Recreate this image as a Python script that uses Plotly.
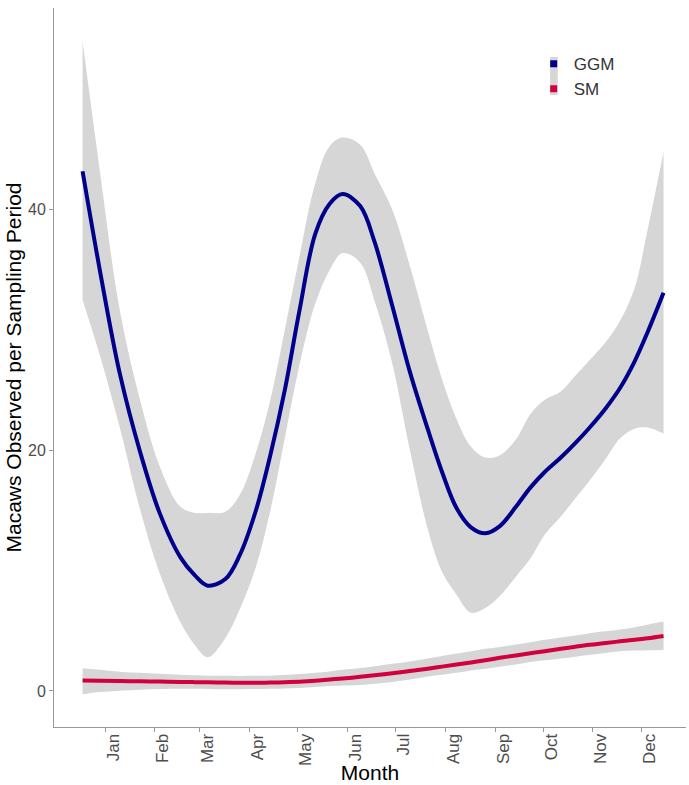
import plotly.graph_objects as go

# Day of year (x) shared by all smoothed series
day = [-13, -2, 10, 23, 35, 48, 57, 65, 76, 85, 95, 104, 113, 122, 132, 141, 149, 160,
       169, 180, 191, 202, 211, 220, 229, 238, 247, 257, 266, 275, 285, 294, 303, 313,
       322, 331, 339, 349]

ggm_fit = [43.2, 34.8, 26.5, 19.8, 14.8, 11.1, 9.6, 8.75, 9.3, 11.3, 15.0, 19.6, 25.0, 31.5,
           38.0, 40.5, 41.3, 40.3, 37.3, 32.0, 26.5, 21.8, 18.2, 15.2, 13.6, 13.1, 13.7,
           15.3, 16.9, 18.2, 19.4, 20.6, 21.9, 23.5, 25.2, 27.4, 29.8, 33.1]
ggm_upper = [54.0, 43.0, 31.8, 24.1, 18.7, 15.3, 14.8, 14.8, 14.9, 16.3, 19.8, 24.2, 30.0,
             36.0, 42.2, 45.3, 46.0, 45.4, 43.0, 40.0, 35.3, 30.0, 25.9, 22.6, 20.3, 19.4,
             19.6, 20.9, 23.0, 24.2, 24.9, 26.2, 27.5, 29.0, 30.8, 33.5, 38.3, 44.8]
ggm_lower = [32.5, 27.8, 22.0, 15.0, 9.8, 5.7, 3.8, 2.8, 4.4, 6.8, 10.3, 15.0, 21.0, 27.0,
             32.2, 35.0, 36.4, 35.6, 32.4, 27.2, 20.0, 13.5, 9.9, 8.0, 6.5, 6.9, 7.9, 9.5,
             11.0, 13.0, 14.5, 16.0, 17.5, 19.3, 21.0, 21.8, 21.9, 21.4]

sm_fit = [0.86, 0.84, 0.82, 0.80, 0.78, 0.75, 0.73, 0.71, 0.69, 0.68, 0.68, 0.69, 0.72, 0.77,
          0.85, 0.95, 1.03, 1.17, 1.30, 1.47, 1.65, 1.85, 2.02, 2.20, 2.37, 2.55, 2.75, 2.95,
          3.13, 3.30, 3.50, 3.67, 3.83, 3.98, 4.12, 4.25, 4.38, 4.57]
sm_upper = [1.88, 1.75, 1.60, 1.50, 1.42, 1.35, 1.30, 1.27, 1.25, 1.24, 1.25, 1.27, 1.32, 1.40,
            1.50, 1.62, 1.75, 1.90, 2.05, 2.25, 2.45, 2.70, 2.90, 3.10, 3.30, 3.50, 3.65, 3.85,
            4.05, 4.25, 4.45, 4.60, 4.80, 4.95, 5.10, 5.30, 5.50, 5.76]
sm_lower = [-0.28, -0.10, 0.02, 0.10, 0.15, 0.17, 0.17, 0.16, 0.14, 0.14, 0.15, 0.17, 0.20, 0.25,
            0.33, 0.40, 0.45, 0.50, 0.60, 0.75, 0.95, 1.20, 1.35, 1.50, 1.70, 1.85, 2.00, 2.20,
            2.40, 2.55, 2.70, 2.85, 3.00, 3.15, 3.30, 3.35, 3.38, 3.40]

month_ticks = [1, 32, 60, 91, 121, 152, 182, 213, 244, 274, 305, 335]
month_labels = ["Jan", "Feb", "Mar", "Apr", "May", "Jun", "Jul", "Aug", "Sep", "Oct", "Nov", "Dec"]
y_ticks = [0, 20, 40]

series = [("GGM", ggm_fit, ggm_upper, ggm_lower, "#00008B"),
          ("SM", sm_fit, sm_upper, sm_lower, "#D2003C")]

RIBBON = "#D6D6D6"
SM_K = 1.0
fig = go.Figure()
for name, fit, up, lo, col in series:
    fig.add_trace(go.Scatter(x=day, y=lo, mode="lines",
                             line=dict(width=0, shape="spline", smoothing=SM_K),
                             showlegend=False, hoverinfo="skip"))
    fig.add_trace(go.Scatter(x=day, y=up, mode="lines",
                             line=dict(width=0, shape="spline", smoothing=SM_K),
                             fill="tonexty", fillcolor=RIBBON, showlegend=False, hoverinfo="skip"))
for name, fit, up, lo, col in series:
    fig.add_trace(go.Scatter(x=day, y=fit, mode="lines", name=name,
                             line=dict(color=col, width=4, shape="spline", smoothing=SM_K),
                             showlegend=False))
for name, fit, up, lo, col in series:
    fig.add_trace(go.Scatter(x=[None], y=[None], mode="markers", name=name,
                             marker=dict(symbol="square", size=7, color=col)))

fig.update_layout(
    width=689, height=785,
    margin=dict(l=54, r=3, t=8, b=58),
    paper_bgcolor="white", plot_bgcolor="white",
    font=dict(family="Liberation Sans, Arial, sans-serif", color="#333333"),
    legend=dict(x=0.759, y=0.947, xanchor="left", yanchor="top", traceorder="normal",
                font=dict(size=17, color="#333333"), bgcolor="rgba(0,0,0,0)",
                itemwidth=30, tracegroupgap=0),
    shapes=[dict(type="rect", xref="paper", yref="paper", x0=0.785, x1=0.797,
                 y0=0.879, y1=0.932, fillcolor=RIBBON, line=dict(width=0), layer="below")],
)
fig.update_xaxes(
    range=[-30.8, 363], tickvals=month_ticks, ticktext=month_labels, tickangle=-90,
    ticks="outside", ticklen=4, tickcolor="#999999", showline=True, linecolor="#999999",
    linewidth=1, showgrid=False, zeroline=False, ticklabelshift=8, ticklabelstandoff=-5,
    tickfont=dict(size=17, color="#4D4D4D"), automargin=False,
    title=dict(text="Month", font=dict(size=21, color="black"), standoff=0),
)
fig.update_yaxes(
    range=[-3.0, 56.77], tickvals=y_ticks, ticks="outside", ticklen=4, tickcolor="#999999",
    showline=True, linecolor="#999999", linewidth=1, showgrid=False, zeroline=False,
    tickfont=dict(size=16, color="#4D4D4D"), automargin=False,
    title=dict(text="Macaws Observed per Sampling Period", font=dict(size=21, color="black"),
               standoff=0),
)
fig.write_html("out.html", config={"displayModeBar": False})

# remove the browser's default 8px body margin so the figure fills the window exactly
with open("out.html", encoding="utf-8") as f:
    html = f.read()
html = html.replace("<body>", '<body style="margin:0;padding:0;">', 1)
with open("out.html", "w", encoding="utf-8") as f:
    f.write(html)
